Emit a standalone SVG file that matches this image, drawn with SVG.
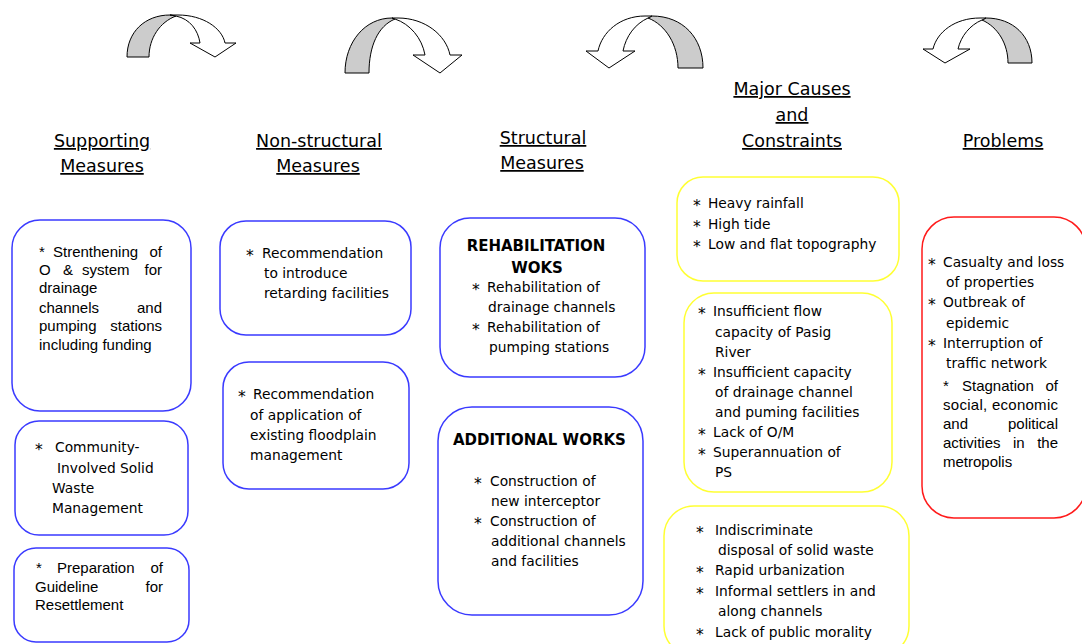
<svg xmlns="http://www.w3.org/2000/svg" width="1082" height="644" viewBox="0 0 1082 644">
<style>
.t{font-family:"DejaVu Sans",sans-serif;font-size:13.8px;fill:#000}
.k{font-size:15.5px}
.a{font-family:"Liberation Sans",Arial,sans-serif;font-size:15px;fill:#000}
.h{font-family:"DejaVu Sans",sans-serif;font-size:17.5px;fill:#000;text-decoration:underline;text-anchor:middle}
.b{font-family:"DejaVu Sans",sans-serif;font-size:15px;font-weight:bold;fill:#000}
.blue{fill:#fff;stroke:#3a3aff;stroke-width:1.5}
.yel{fill:#fff;stroke:#ffff33;stroke-width:1.5}
.red{fill:#fff;stroke:#ff1a1a;stroke-width:1.5}
.g{fill:#cccccc;stroke:#000;stroke-width:1}
.w{fill:#fff;stroke:#000;stroke-width:1}
</style>
<rect width="1082" height="644" fill="#fff"/>
<g id="connectors">
  <g id="arrow1">
    <path class="g" d="M127,57 C127,32 145,15 170,15 L176,16 C160,22 149,38 149,57 Z"/>
    <path class="w" d="M170,15 L178,15 C203,15 222,28 225,43 L236,43 L215,57 L190,43 L200,43 C198,30 190,19 176,16 Z"/>
  </g>
  <g id="arrow2">
    <path class="g" d="M345,73 C345,42 365,18 392,18 L395,19 C378,26 369,46 369,73 Z"/>
    <path class="w" d="M392,18 L398,18 C425,18 446,35 450,55 L462,55 L440,73 L413,55 L425,55 C422,38 410,24 395,19 Z"/>
  </g>
  <g id="arrow3">
    <path class="g" d="M703,68 C703,38 683,16 652,16 L648,18 C666,25 678,45 678,68 Z"/>
    <path class="w" d="M652,16 L645,16 C620,16 602,32 598,51 L586,51 L609,68 L635,51 L623,51 C626,36 635,24 648,18 Z"/>
  </g>
  <g id="arrow4">
    <path class="g" d="M1032,63 C1032,36 1013,18 986,18 L982,20 C998,27 1008,44 1008,63 Z"/>
    <path class="w" d="M986,18 L980,18 C955,18 937,32 933,49 L923,49 L945,63 L970,49 L958,49 C961,36 970,25 982,20 Z"/>
  </g>
</g>
<g id="headers">
  <text class="h" x="102" y="147">Supporting</text>
  <text class="h" x="102" y="172">Measures</text>
  <text class="h" x="319" y="147">Non-structural</text>
  <text class="h" x="318" y="172">Measures</text>
  <text class="h" x="543" y="144">Structural</text>
  <text class="h" x="542" y="169">Measures</text>
  <text class="h" x="792" y="95">Major Causes</text>
  <text class="h" x="792" y="121">and</text>
  <text class="h" x="792" y="147">Constraints</text>
  <text class="h" x="1003" y="147">Problems</text>
</g>
<g id="sup1">
  <rect class="blue" x="12" y="220" width="179" height="191" rx="28"/>
  <text class="a" y="257"><tspan x="39">*</tspan><tspan x="53">Strenthening</tspan><tspan x="162" text-anchor="end">of</tspan></text>
  <text class="a" y="275"><tspan x="39">O</tspan><tspan x="63">&amp;</tspan><tspan x="82">system</tspan><tspan x="162" text-anchor="end">for</tspan></text>
  <text class="a" x="39" y="293">drainage</text>
  <text class="a" y="313"><tspan x="39">channels</tspan><tspan x="162" text-anchor="end">and</tspan></text>
  <text class="a" y="331"><tspan x="39">pumping</tspan><tspan x="162" text-anchor="end">stations</tspan></text>
  <text class="a" x="39" y="350">including funding</text>
</g>
<g id="sup2">
  <rect class="blue" x="15" y="421" width="173" height="114" rx="24"/>
  <text class="t"><tspan class="k" x="35" y="455">*</tspan><tspan x="55" y="452">Community-</tspan></text>
  <text class="t" x="57" y="473">Involved Solid</text>
  <text class="t" x="52" y="493">Waste</text>
  <text class="t" x="52" y="513">Management</text>
</g>
<g id="sup3">
  <rect class="blue" x="14" y="548" width="175" height="94" rx="22"/>
  <text class="a" y="573"><tspan x="36">*</tspan><tspan x="57">Preparation</tspan><tspan x="163" text-anchor="end">of</tspan></text>
  <text class="a" y="592"><tspan x="35">Guideline</tspan><tspan x="163" text-anchor="end">for</tspan></text>
  <text class="a" x="35" y="610">Resettlement</text>
</g>
<g id="non1">
  <rect class="blue" x="220" y="221" width="191" height="114" rx="26"/>
  <text class="t"><tspan class="k" x="246" y="261">*</tspan><tspan x="262" y="258">Recommendation</tspan></text>
  <text class="t" x="264" y="278">to introduce</text>
  <text class="t" x="264" y="298">retarding facilities</text>
</g>
<g id="non2">
  <rect class="blue" x="223" y="362" width="186" height="127" rx="26"/>
  <text class="t"><tspan class="k" x="238" y="402">*</tspan><tspan x="253" y="399">Recommendation</tspan></text>
  <text class="t" x="250" y="420">of application of</text>
  <text class="t" x="250" y="440">existing floodplain</text>
  <text class="t" x="250" y="460">management</text>
</g>
<g id="str1">
  <rect class="blue" x="440" y="218" width="205" height="159" rx="30"/>
  <text class="b" x="536" y="251" text-anchor="middle">REHABILITATION</text>
  <text class="b" x="537" y="273" text-anchor="middle">WOKS</text>
  <text class="t"><tspan class="k" x="472" y="295">*</tspan><tspan x="487" y="292">Rehabilitation of</tspan></text>
  <text class="t" x="488" y="312">drainage channels</text>
  <text class="t"><tspan class="k" x="472" y="335">*</tspan><tspan x="487" y="332">Rehabilitation of</tspan></text>
  <text class="t" x="489" y="352">pumping stations</text>
</g>
<g id="str2">
  <rect class="blue" x="438" y="407" width="205" height="208" rx="34"/>
  <text class="b" x="453" y="445">ADDITIONAL WORKS</text>
  <text class="t"><tspan class="k" x="474" y="489">*</tspan><tspan x="490" y="486">Construction of</tspan></text>
  <text class="t" x="491" y="506">new interceptor</text>
  <text class="t"><tspan class="k" x="474" y="529">*</tspan><tspan x="490" y="526">Construction of</tspan></text>
  <text class="t" x="491" y="546">additional channels</text>
  <text class="t" x="491" y="566">and facilities</text>
</g>
<g id="cause1">
  <rect class="yel" x="677" y="177" width="222" height="104" rx="26"/>
  <text class="t"><tspan class="k" x="693" y="211">*</tspan><tspan x="708" y="208">Heavy rainfall</tspan></text>
  <text class="t"><tspan class="k" x="693" y="232">*</tspan><tspan x="708" y="229">High tide</tspan></text>
  <text class="t"><tspan class="k" x="693" y="252">*</tspan><tspan x="708" y="249">Low and flat topography</tspan></text>
</g>
<g id="cause2">
  <rect class="yel" x="684" y="293" width="208" height="199" rx="30"/>
  <text class="t"><tspan class="k" x="698" y="319">*</tspan><tspan x="713" y="316">Insufficient flow</tspan></text>
  <text class="t" x="715" y="337">capacity of Pasig</text>
  <text class="t" x="715" y="357">River</text>
  <text class="t"><tspan class="k" x="698" y="380">*</tspan><tspan x="713" y="377">Insufficient capacity</tspan></text>
  <text class="t" x="715" y="397">of drainage channel</text>
  <text class="t" x="715" y="417">and puming facilities</text>
  <text class="t"><tspan class="k" x="698" y="440">*</tspan><tspan x="713" y="437">Lack of O/M</tspan></text>
  <text class="t"><tspan class="k" x="698" y="460">*</tspan><tspan x="713" y="457">Superannuation of</tspan></text>
  <text class="t" x="715" y="477">PS</text>
</g>
<g id="cause3">
  <rect class="yel" x="664" y="506" width="245" height="150" rx="30"/>
  <text class="t"><tspan class="k" x="696" y="538">*</tspan><tspan x="715" y="535">Indiscriminate</tspan></text>
  <text class="t" x="718" y="555">disposal of solid waste</text>
  <text class="t"><tspan class="k" x="696" y="578">*</tspan><tspan x="715" y="575">Rapid urbanization</tspan></text>
  <text class="t"><tspan class="k" x="696" y="599">*</tspan><tspan x="715" y="596">Informal settlers in and</tspan></text>
  <text class="t" x="718" y="616">along channels</text>
  <text class="t"><tspan class="k" x="696" y="640">*</tspan><tspan x="715" y="637">Lack of public morality</tspan></text>
</g>
<g id="problems">
  <rect class="red" x="922" y="217" width="164" height="301" rx="32"/>
  <text class="t"><tspan class="k" x="928" y="270">*</tspan><tspan x="943" y="267">Casualty and loss</tspan></text>
  <text class="t" x="946" y="287">of properties</text>
  <text class="t"><tspan class="k" x="928" y="310">*</tspan><tspan x="943" y="307">Outbreak of</tspan></text>
  <text class="t" x="946" y="328">epidemic</text>
  <text class="t"><tspan class="k" x="928" y="351">*</tspan><tspan x="943" y="348">Interruption of</tspan></text>
  <text class="t" x="946" y="368">traffic network</text>
  <text class="a" y="391"><tspan x="943">*</tspan><tspan x="962">Stagnation</tspan><tspan x="1058" text-anchor="end">of</tspan></text>
  <text class="a" x="943" y="410" textLength="115" lengthAdjust="spacing">social, economic</text>
  <text class="a" y="429"><tspan x="943">and</tspan><tspan x="1058" text-anchor="end">political</tspan></text>
  <text class="a" y="448"><tspan x="943">activities</tspan><tspan x="1013">in</tspan><tspan x="1058" text-anchor="end">the</tspan></text>
  <text class="a" x="943" y="467">metropolis</text>
</g>
</svg>
